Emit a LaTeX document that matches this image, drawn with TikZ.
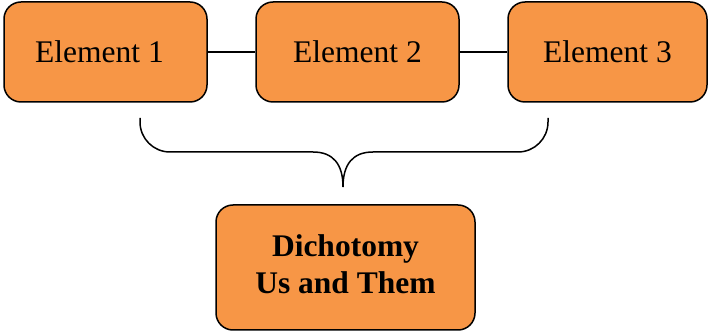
\documentclass[tikz,border=0pt]{standalone}
\usepackage{fontspec}
\setmainfont{Liberation Serif}
\definecolor{boxorange}{HTML}{F79646}
\begin{document}
\begin{tikzpicture}[x=1pt,y=1pt,
  elbox/.style={draw=black, line width=1.5pt, fill=boxorange, rounded corners=17pt,
    minimum width=#1, minimum height=100pt, inner sep=0pt, font=\fontsize{31.5}{36}\selectfont},
  elbox/.default=201pt,
  link/.style={draw=black, line width=1.3pt},
  bracestyle/.style={draw=black, line width=1.5pt}]
\useasboundingbox (0,0) rectangle (710,332);
\node[elbox=203pt] (e1) at (105.5,280) {\kern-12pt Element 1};
\node[elbox=203pt] (e2) at (357.5,280) {Element 2};
\node[elbox=199pt] (e3) at (607.5,280) {Element 3};
\node[elbox=259pt, minimum height=125pt] (d) at (345.5,64.5) {};
\node[align=center, inner sep=0pt, font=\fontsize{31.5}{38}\selectfont\bfseries]
  (dt) at ([yshift=3pt]d.center) {Dichotomy\\[-1pt]Us and Them};
\draw[link] (e1) -- (e2);
\draw[link] (e2) -- (e3);
\coordinate (bl) at (140,214);
\coordinate (br) at (548,214);
\coordinate (tip) at (343,145);
\draw[bracestyle] (bl) -- ++(0,-4) arc[start angle=180, end angle=270, radius=30]
  -- (313,180) .. controls (333,180) and (343,168) .. (tip)
  .. controls (343,168) and (353,180) .. (373,180)
  -- (518,180) arc[start angle=270, end angle=360, radius=30] -- (br);
\end{tikzpicture}
\end{document}
